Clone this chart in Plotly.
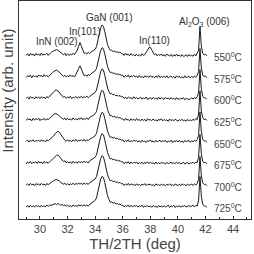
import numpy as np
import plotly.graph_objects as go

# 2-theta sampling grid (deg), 29.0 .. 42.1 step 0.1
TWO_THETA = np.round(np.arange(290, 422) / 10.0, 1)

TEMPERATURES = ["550", "575", "600", "625", "650", "675", "700", "725"]

# intensity above each trace's own baseline (arb. units)
I_550 = [6,14,4,16,8,12,3,15,9,13,
         5,17,7,12,10,16,6,14,20,24,
         28,32,33,30,26,20,15,9,16,5,
         14,6,12,8,16,10,18,30,48,66,
         50,28,16,18,12,20,15,22,26,30,
         34,47,76,106,133,147,141,116,83,56,
         40,30,30,24,27,20,24,18,22,15,
         14,6,17,8,12,4,15,7,10,3,
         12,5,9,3,14,6,10,18,30,42,
         44,32,18,9,14,4,11,6,13,3,
         10,2,12,5,3,11,1,9,4,12,
         3,8,1,10,2,4,9,1,11,3,
         7,2,12,4,14,30,140,50,15,8,
         12,4]
I_575 = [4,12,7,15,3,13,8,11,5,16,
         9,14,6,17,10,13,7,15,20,26,
         32,37,38,35,28,22,14,9,15,6,
         12,7,16,9,13,6,17,28,45,58,
         44,24,12,16,9,18,14,21,25,31,
         35,46,74,104,129,142,137,113,80,54,
         38,26,29,22,25,18,21,16,20,12,
         15,5,13,7,16,4,12,8,14,6,
         11,3,13,5,9,2,12,6,10,4,
         13,5,9,2,11,4,14,3,8,5,
         10,3,12,2,7,11,3,9,1,12,
         4,10,2,8,1,12,3,6,10,2,
         9,3,11,5,13,32,138,48,14,9,
         11,3]
I_600 = [7,13,4,16,9,12,5,15,8,14,
         6,15,9,13,5,16,10,18,24,30,
         38,44,45,42,35,26,18,12,16,8,
         14,9,17,6,13,10,16,8,14,11,
         17,9,15,12,18,10,16,21,24,30,
         35,46,75,105,131,144,139,114,81,55,
         39,27,30,23,26,19,22,17,21,14,
         16,7,13,5,14,8,11,4,15,6,
         12,4,9,13,3,10,6,14,2,8,
         11,3,12,6,9,2,13,4,10,7,
         3,12,5,9,2,11,4,8,1,10,
         6,2,9,4,11,1,7,3,2,5,
         10,4,12,6,15,33,140,52,16,10,
         9,4]
I_625 = [5,14,8,12,3,15,7,13,9,16,
         4,12,8,15,6,13,9,16,22,27,
         33,37,36,32,26,20,14,10,17,7,
         15,8,13,6,17,9,14,7,16,10,
         18,8,14,11,17,9,19,22,26,30,
         36,47,76,105,132,145,140,114,82,55,
         38,26,28,21,25,18,22,16,19,13,
         12,5,15,7,10,3,13,6,11,4,
         14,6,9,3,12,5,10,2,13,7,
         9,4,12,5,8,2,11,6,13,3,
         10,5,8,1,12,4,9,3,11,6,
         2,9,4,11,3,7,1,10,4,8,
         3,11,5,14,9,35,142,50,18,9,
         12,5]
I_650 = [8,15,5,13,9,16,6,12,10,14,
         7,16,9,13,6,15,11,17,21,28,
         34,44,52,55,50,40,28,18,14,8,
         16,9,13,7,15,10,17,8,14,11,
         16,10,18,9,15,12,19,23,25,31,
         34,46,74,104,130,143,138,114,80,55,
         39,26,29,23,27,20,23,17,20,14,
         15,6,13,8,16,5,12,7,14,9,
         13,5,11,4,14,7,10,3,12,8,
         15,6,11,4,13,7,9,14,5,12,
         8,13,4,10,6,14,3,11,7,12,
         5,13,6,10,3,12,7,9,13,4,
         11,6,14,8,16,36,145,53,17,11,
         10,5]
I_675 = [4,13,7,15,5,12,9,14,6,16,
         8,13,5,15,9,12,7,16,20,25,
         31,38,44,45,40,31,22,15,18,9,
         15,8,14,6,16,9,13,7,17,10,
         14,9,17,11,15,8,18,22,26,31,
         35,46,75,105,131,144,139,115,81,56,
         40,27,29,22,26,19,23,16,20,13,
         14,5,12,7,15,4,13,6,11,8,
         13,4,10,6,12,3,11,7,14,5,
         12,6,9,3,13,5,10,4,12,7,
         9,3,11,6,8,13,4,10,5,12,
         6,11,3,9,12,4,8,11,3,10,
         7,12,5,13,10,34,140,51,15,10,
         11,4]
I_700 = [6,12,4,14,7,11,3,13,8,12,
         5,14,7,11,4,13,8,15,18,22,
         27,31,32,30,25,19,14,10,15,7,
         13,6,12,8,15,7,14,9,16,10,
         15,8,16,10,14,9,17,21,24,29,
         34,45,73,103,129,142,137,112,79,54,
         38,25,28,21,25,18,21,15,19,12,
         13,4,11,6,14,5,12,7,10,3,
         12,5,9,3,11,6,13,4,10,7,
         11,4,8,2,12,5,9,3,11,6,
         8,3,10,5,12,4,9,2,11,6,
         4,10,3,12,6,9,2,11,5,8,
         10,4,12,6,13,33,138,49,16,9,
         10,3]
I_725 = [5,11,3,13,6,10,4,12,7,11,
         4,12,6,10,5,13,8,14,12,16,
         18,20,15,21,17,13,16,11,14,8,
         13,7,11,5,14,8,12,6,15,9,
         14,8,15,10,13,9,16,20,24,30,
         35,47,77,107,134,146,142,117,84,57,
         40,26,29,22,26,18,22,15,19,12,
         13,5,11,7,14,4,12,6,10,8,
         12,4,10,6,13,3,9,7,11,5,
         10,3,12,6,8,2,11,5,9,4,
         11,4,8,13,3,10,6,12,2,9,
         5,11,3,10,7,12,4,9,11,6,
         8,13,5,12,9,35,146,54,18,10,
         8,3]

SERIES = [I_550, I_575, I_600, I_625, I_650, I_675, I_700, I_725]

PEAK_LABELS = ["InN (002)", "In(101)", "GaN (001)", "In(110)",
               "Al<sub>2</sub>O<sub>3</sub> (006)"]
PEAK_POS = [31.23, 33.26, 35.07, 38.27, 41.96]
PEAK_LABEL_Y = [769, 815, 880, 773, 861]

X_TICKS = [30, 32, 34, 36, 38, 40, 42, 44]

SPACING = 100
FONT = "Liberation Sans, Arial, sans-serif"
LINE_COLOR = "#1a1a1a"

fig = go.Figure()
n = len(SERIES)
for i, (temp, vals) in enumerate(zip(TEMPERATURES, SERIES)):
    offset = (n - 1 - i) * SPACING
    fig.add_trace(go.Scatter(
        x=TWO_THETA, y=np.array(vals) + offset, mode="lines",
        line=dict(color=LINE_COLOR, width=1), showlegend=False,
        hoverinfo="skip"))
    fig.add_annotation(x=43.6, y=offset - 2, text=f"{temp}<sup>0</sup>C",
                       showarrow=False, xanchor="center", yanchor="middle",
                       font=dict(family=FONT, size=10, color="#444444"))

for lab, px, py in zip(PEAK_LABELS, PEAK_POS, PEAK_LABEL_Y):
    fig.add_annotation(x=px, y=py, text=lab, showarrow=False,
                       xanchor="center", yanchor="middle",
                       font=dict(family=FONT, size=10, color="#333333"))

fig.add_annotation(xref="paper", yref="paper", x=-0.05, y=0.59,
                   text="Intensity (arb. unit)", textangle=-90,
                   showarrow=False, xanchor="center", yanchor="middle",
                   font=dict(family=FONT, size=15, color="#444444"))

fig.update_layout(
    width=254, height=254,
    margin=dict(l=19, r=3, t=1, b=35),
    paper_bgcolor="white", plot_bgcolor="white",
    font=dict(family=FONT, color="#444444"),
    xaxis=dict(range=[28.48, 45.3], tickvals=X_TICKS, ticks="inside",
               ticklen=3, tickcolor="#333333", showline=True, mirror=True,
               linecolor="#333333", linewidth=1, showgrid=False,
               zeroline=False, tickfont=dict(size=11, color="#444444"),
               minor=dict(dtick=1, ticks="inside", ticklen=2,
                          tickcolor="#333333", tick0=29),
               title=dict(text="TH/2TH (deg)", standoff=3,
                          font=dict(size=15, color="#444444"))),
    yaxis=dict(range=[-51, 958], showticklabels=False, ticks="",
               showline=True, mirror=True, linecolor="#333333",
               linewidth=1, showgrid=False, zeroline=False),
)

fig.write_html("out.html")
